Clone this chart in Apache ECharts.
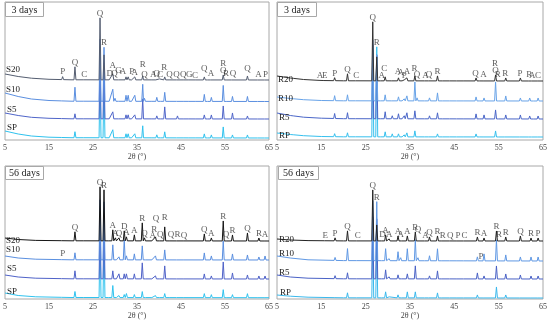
<!DOCTYPE html>
<html><head><meta charset="utf-8">
<script src="https://cdn.jsdelivr.net/npm/echarts/dist/echarts.min.js"></script>
<style>html,body{margin:0;padding:0;background:#fff}#c{width:550px;height:322px}</style>
</head><body><div id="c"></div>
<script>
// ---------------- DATA ----------------
const xMin = 5, xMax = 65, xStep = 10;
const axisTitle = '2θ (°)';
const panelTitles = ['3 days', '3 days', '56 days', '56 days'];
const names_S = ['S20', 'S10', 'S5', 'SP'];
const names_R = ['R20', 'R10', 'R5', 'RP'];

// Panel 1: 3 days, S series
const pos_S3 = [18.1,20.9,23.0,26.6,27.5,28.9,29.5,30.0,31.0,32.5,33.0,34.0,34.5,36.3,36.7,38.6,39.5,40.1,41.3,42.5,44.2,45.7,47.0,48.6,50.3,50.8,51.9,54.6,55.2,56.7,60.1,62.6,64.2];
const S20_3d = [3,13,1,62,25,2,6,2,2,3,3,2,3,4,1,1,2,1,3,1,1,1,0.5,0.5,3,1,2,5,2,2,4,1,1];
const S10_3d = [1,14,1,62,54,2,12,3,2,6,6,2,6,17,3,1,4,1,9,2,2,1,1,1,7,1,4,16,2,5,5,2,2];
const S5_3d  = [1,5,0.5,62,56,1,7,2,2,4,4,1,4,20,2,1,3,1,12,1,3,1,1,0.5,4,1,4,13,2,6,3,2,2];
const SP_3d  = [1,6,0.5,64,58,1,8,1,1,4,4,1,4,12,2,1,3,1,6,1,2,1,1,0.5,4,1,3,11,2,3,3,2,2];
const bg_S20_3d = [[5,66],[8,63.5],[11,61.8],[15,60.7],[20,60.2],[65,60]];
const bg_S10_3d = [[5,47],[8,43.5],[11,41],[15,39.5],[20,38.8],[65,38.5]];
const bg_S5_3d  = [[5,27],[8,24.5],[11,22.7],[15,21.7],[20,21.2],[65,21]];
const bg_SP_3d  = [[5,9],[8,6],[11,4],[15,2.8],[20,2.3],[65,2]];
const labels_S3 = [[18.1,'P',0],[20.9,'Q',0],[23.0,'C',0],[26.6,'Q',0,-1],[27.5,'R',0,-1],
 [28.8,'D',0],[29.5,'A',0.6],[29.9,'Q',0],[30.8,'G',0.4],[31.8,'A',0.5],[33.8,'P',0.3],[34.5,'A',0],
 [36.3,'R',1],[36.7,'Q',0],[38.7,'A',0],[39.5,'Q',0],[40.3,'C',0],[41.2,'R',0.7],
 [42.4,'Q',0],[44.0,'Q',0],[45.5,'Q',0],[46.9,'G',0],[48.2,'C',0],[50.3,'Q',0.6],[51.8,'A',0],
 [54.6,'R',1],[54.6,'Q',0],[55.2,'R',0],[56.8,'Q',0],[60.1,'Q',0.4],[62.6,'A',0],[64.2,'P',0]];

// Panel 2: 3 days, R series
const pos_R3 = [9.0,14.7,15.8,18.0,20.9,22.9,26.6,27.5,28.6,29.4,31.0,32.4,33.0,33.7,34.3,36.1,36.6,38.5,39.4,41.2,42.5,44.1,45.7,47.2,49.9,50.4,51.7,54.3,54.8,56.6,59.9,62.0,62.6,63.9];
const R20_3d = [0.5,0.5,0.5,3,7,1,59,24,1,4,1,3,2,1,3,5,2,1,2,5,1,1,1,1,3,2,2,6,2,3,3,2,1,1];
const R10_3d = [1,0,0,5,6,1,61,46,1,6,1,4,2,2,5,19,3,1,3,8,1,2,1,2,4,2,3,19,2,5,3,3,2,3];
const R5_3d  = [1.5,0,0,5,6,1,74,64,1,7,3,5,2,3,6,8,2,1,3,6,1,2,1,2,5,2,4,9,2,4,4,3,2,3];
const RP_3d  = [1,0,0,3,4,0.5,87,90,1,5,3,3,2,2,4,6,2,1,2,3,1,1,1,1,3,1,2,6,1,2,2,2,1,1];
const bg_R20_3d = [[5,64],[8,62],[11,60.5],[15,59.5],[20,59.2],[65,59]];
const bg_R10_3d = [[5,43],[8,41.5],[11,40.3],[15,39.5],[20,39.2],[65,39]];
const bg_R5_3d  = [[5,27],[8,24.5],[11,22.8],[15,21.8],[20,21.3],[65,21]];
const bg_RP_3d  = [[5,7],[8,5.5],[11,4.3],[15,3.5],[20,3.2],[65,3]];
const labels_R3 = [[14.7,'A',0],[15.75,'E',0],[18.0,'P',0],[20.9,'Q',0],[22.9,'C',0],[26.6,'Q',0,-1],[27.5,'R',0,-1],
 [28.6,'A',0],[29.2,'C',0.6],[32.3,'A',0.3],[32.9,'A',0.3],[33.7,'P',0],[34.3,'A',0.3],
 [36.0,'R',0.4],[36.6,'Q',0],[38.5,'A',0],[39.3,'Q',0],[41.2,'R',0],
 [49.8,'Q',0],[51.6,'A',0],[54.2,'R',1],[54.3,'Q',0],[54.8,'R',0],[56.5,'R',0],[59.8,'P',0],[61.9,'R',0],[62.6,'A',0],[63.9,'C',0]];

// Panel 3: 56 days, S series
const pos_S56 = [18.1,20.9,23.0,26.6,27.5,28.8,29.5,30.1,30.9,32.1,32.6,34.4,36.2,36.7,38.6,39.2,40.3,41.3,42.7,44.2,45.7,50.3,51.9,54.6,55.2,56.7,60.1,62.7,64.1];
const S20_56d = [1,9,1,54,51,2,11,3,3,10,4,6,18,3,1,4,2,14,2,2,1,7,3,20,2,6,8,3,2];
const S10_56d = [2,7,1,60,58,1,15,2,3,20,4,6,14,2,1,4,1,10,2,2,1,7,4,19,2,6,5,3,4];
const S5_56d  = [1,8,1,62,60,1,8,2,5,5,5,5,16,2,1,3,1,13,2,2,1,5,3,17,2,6,4,3,3];
const SP_56d  = [0.5,6,0.5,64,62,1,12,2,2,3,4,3,6,1,1,2,1,4,1,1,1,4,3,8,1,3,4,2,2];
const bg_S20_56d = [[5,61],[8,59.5],[12,58.6],[20,58.2],[65,58]];
const bg_S10_56d = [[5,43],[8,41],[12,39.8],[20,39.2],[65,39]];
const bg_S5_56d  = [[5,24],[8,22],[12,20.8],[20,20.2],[65,20]];
const bg_SP_56d  = [[5,6],[8,3.5],[12,2.2],[20,1.5],[65,1.3]];
const labels_S56 = [[20.9,'Q',0],[26.6,'Q',0,-1],[27.5,'R',0,-1],[29.5,'A',0],[30.1,'A',0],[30.9,'Q',0],
 [32.1,'D',0],[32.6,'A',0],[34.4,'A',0],[36.2,'R',0],[36.7,'Q',0],[38.6,'A',0],[38.9,'R',1],[39.3,'Q',2],[40.3,'Q',0],
 [41.3,'R',0.7],[42.7,'Q',0],[44.2,'R',0],[45.7,'Q',0],[50.3,'Q',0],[51.9,'A',0],[54.6,'R',0],[55.2,'Q',0],
 [56.7,'R',0],[60.1,'Q',0],[62.7,'R',0],[64.1,'A',0],[18.1,'P',0,1]];

// Panel 4: 56 days, R series
const pos_R56 = [15.9,18.1,20.9,23.2,26.6,27.5,28.8,29.5,30.3,32.3,32.9,34.4,36.2,36.8,38.5,39.4,41.2,42.4,44.1,45.8,47.3,50.2,51.7,54.5,55.1,56.6,59.9,62.3,63.9];
const R20_56d = [0.5,3,10,1,51,16,2,6,2,5,2,5,9,2,1,4,5,1,1,1,1,4,3,10,2,4,5,3,3];
const R10_56d = [0,3,12,1,60,59,1,12,2,9,3,12,21,3,1,5,12,2,2,2,2,4,7,21,2,6,4,4,4];
const R5_56d  = [0,3,6,1,62,60,1,9,2,4,2,5,13,2,1,3,8,1,2,1,2,6,3,13,2,5,4,3,3];
const RP_56d  = [0,2,5,0.5,62,60,1,6,1,3,2,6,6,1,1,2,5,1,1,1,1,3,2,11,1,3,2,2,2];
const bg_R20_56d = [[5,60],[8,59],[12,58.4],[20,58.1],[65,58]];
const bg_R10_56d = [[5,43],[8,41],[12,39.2],[20,38.4],[65,38]];
const bg_R5_56d  = [[5,24],[8,22],[12,20.8],[20,20.2],[65,20]];
const bg_RP_56d  = [[5,4],[8,2.8],[12,1.8],[20,1.2],[65,1]];
const labels_R56 = [[15.9,'E',0],[18.1,'P',0],[20.9,'Q',0],[23.2,'C',0],[26.6,'Q',0,-1],[27.5,'R',0,-1],
 [28.8,'D',0],[29.5,'A',0],[30.3,'A',0],[32.3,'A',0],[32.9,'A',0],[34.4,'A',0],
 [36.2,'R',0],[36.8,'Q',0.7],[38.5,'A',0],[39.4,'Q',0],[41.2,'R',0],[42.4,'R',0],[44.1,'Q',0],[45.8,'P',0],[47.3,'C',0],
 [50.2,'R',0],[51.7,'A',0],[54.5,'R',0],[55.1,'R',0],[56.6,'R',0],[59.9,'Q',0],[62.3,'R',0],[63.9,'P',0],[51.0,'P',0,1]];

// ---------------- LAYOUT / STYLE ----------------
const SERIF = 'Liberation Serif, Times New Roman, serif';
const panels = [
  {grid:{left:5,top:2,width:264,height:138}, ymax:138, pos:pos_S3, names:names_S,
   h:[S20_3d,S10_3d,S5_3d,SP_3d], bg:[bg_S20_3d,bg_S10_3d,bg_S5_3d,bg_SP_3d],
   colors:['#545d70','#5b8fe0','#4f65c9','#2fc2ee'], labels:labels_S3,
   nameXY:[[6,70],[6,90],[7,110],[7,128]], box:[5,2,38,14]},
  {grid:{left:277,top:2,width:268,height:138}, ymax:138, pos:pos_R3, names:names_R,
   h:[R20_3d,R10_3d,R5_3d,RP_3d], bg:[bg_R20_3d,bg_R10_3d,bg_R5_3d,bg_RP_3d],
   colors:['#333333','#68a3e8','#4a66c8','#36c0ee'], labels:labels_R3,
   nameXY:[[278,80],[278,99],[279,118],[279,136]], box:[277,2,39,14]},
  {grid:{left:5,top:166,width:264,height:133}, ymax:133, pos:pos_S56, names:names_S,
   h:[S20_56d,S10_56d,S5_56d,SP_56d], bg:[bg_S20_56d,bg_S10_56d,bg_S5_56d,bg_SP_56d],
   colors:['#151515','#5a8fe0','#4f62c8','#2fc2ee'], labels:labels_S56,
   nameXY:[[6,241],[6,250],[7,269],[7,292]], box:[5,166,38,13]},
  {grid:{left:277,top:166,width:268,height:133}, ymax:133, pos:pos_R56, names:names_R,
   h:[R20_56d,R10_56d,R5_56d,RP_56d], bg:[bg_R20_56d,bg_R10_56d,bg_R5_56d,bg_RP_56d],
   colors:['#222222','#5f98e4','#4a62c6','#3ab8ec'], labels:labels_R56,
   nameXY:[[279,240],[279,254],[279,273],[280,293]], box:[278,166,40,13]}
];

const HW = 0.22, LEVEL = 7;
function bgAt(bg, x){
  for (let i=0;i<bg.length-1;i++){
    const a=bg[i], b=bg[i+1];
    if (x>=a[0] && x<=b[0]) return a[1]+(b[1]-a[1])*(x-a[0])/(b[0]-a[0]);
  }
  return bg[bg.length-1][1];
}
function buildLine(bg, pos, h){
  const pts = bg.map(p=>[p[0],p[1]]);
  pos.forEach((p,i)=>{
    if (h[i]>0){
      pts.push([p-HW,bgAt(bg,p-HW)],[p,bgAt(bg,p)+h[i]],[p+HW,bgAt(bg,p+HW)]);
    }
  });
  pts.sort((a,b)=>a[0]-b[0]);
  return pts;
}
function anchorAt(line, bg, x){
  let m = bgAt(bg,x);
  line.forEach(p=>{ if (Math.abs(p[0]-x)<=0.25 && p[1]>m) m=p[1]; });
  return m;
}

const grids=[], xAxes=[], yAxes=[], series=[], graphics=[];
panels.forEach((P,pi)=>{
  grids.push(Object.assign({show:true,borderColor:'#a8a8a8',borderWidth:1,backgroundColor:'transparent'},P.grid));
  xAxes.push({type:'value',gridIndex:pi,min:xMin,max:xMax,interval:xStep,
    axisLine:{show:false},axisTick:{show:false},splitLine:{show:false},
    axisLabel:{fontSize:8,fontFamily:SERIF,color:'#444',margin:4},
    name:axisTitle,nameLocation:'middle',nameGap:12,
    nameTextStyle:{fontSize:8,fontFamily:SERIF,color:'#444'}});
  yAxes.push({type:'value',gridIndex:pi,min:0,max:P.ymax,show:false});
  const lines = P.h.map((h,ti)=>buildLine(P.bg[ti],P.pos,h));
  // draw bottom trace first so the top trace sits above
  for (let ti=lines.length-1; ti>=0; ti--){
    series.push({type:'line',xAxisIndex:pi,yAxisIndex:pi,data:lines[ti],showSymbol:false,silent:true,
      lineStyle:{color:P.colors[ti],width:1},z:2});
  }
  const ldata = P.labels.map(L=>{
    const tr = L[3]===undefined?0:L[3];
    let a;
    if (tr===-1){ a=Math.max(...lines.map((ln,ti)=>anchorAt(ln,P.bg[ti],L[0]))); }
    else a = anchorAt(lines[tr],P.bg[tr],L[0]);
    return {value:[L[0], a+L[2]*LEVEL], label:{formatter:L[1]}};
  });
  series.push({type:'scatter',xAxisIndex:pi,yAxisIndex:pi,data:ldata,symbolSize:0,silent:true,z:5,
    label:{show:true,position:'top',distance:0,fontSize:9,fontFamily:SERIF,color:'#333'}});
  P.names.forEach((n,i)=>{
    graphics.push({type:'text',left:P.nameXY[i][0],top:P.nameXY[i][1]-5,z:10,
      style:{text:n,fontSize:9,fontFamily:SERIF,fill:'#222'}});
  });
  const b=P.box;
  graphics.push({type:'rect',shape:{x:b[0]+0.5,y:b[1]+0.5,width:b[2],height:b[3]},z:10,
    style:{fill:'#fff',stroke:'#a8a8a8',lineWidth:1}});
  graphics.push({type:'text',x:b[0]+b[2]/2+0.5,y:b[1]+b[3]/2+1,z:11,
    style:{text:panelTitles[pi],fontSize:10,fontFamily:SERIF,fill:'#222',align:'center',verticalAlign:'middle'}});
});

const chart = echarts.init(document.getElementById('c'), null, {renderer:'canvas'});
chart.setOption({animation:false,backgroundColor:'#fff',grid:grids,xAxis:xAxes,yAxis:yAxes,series:series,graphic:graphics});
</script></body></html>
